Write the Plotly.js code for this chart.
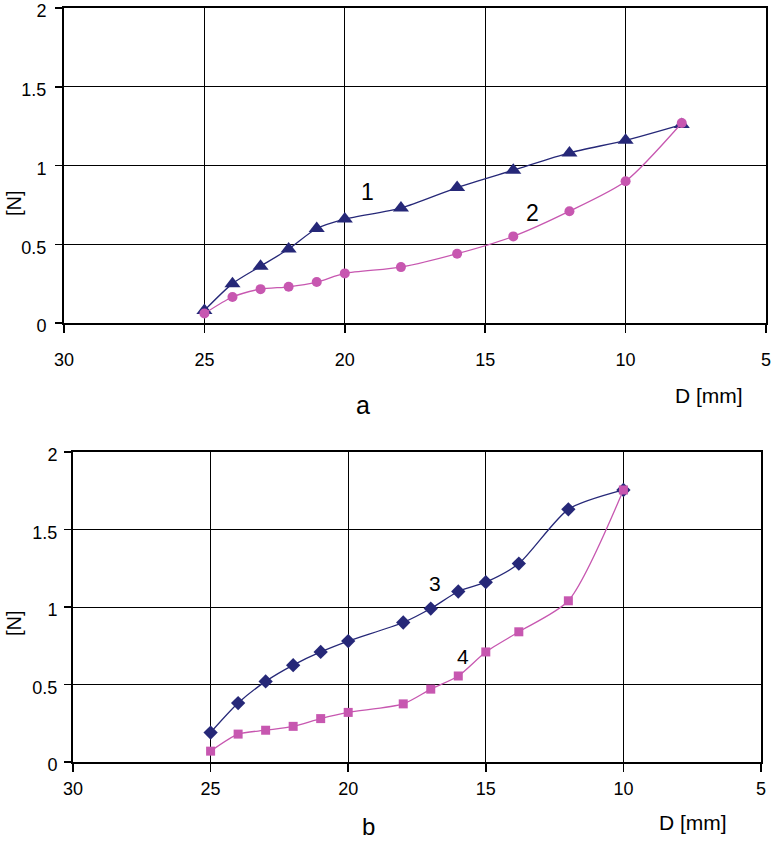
<!DOCTYPE html>
<html>
<head>
<meta charset="utf-8">
<script src="https://cdn.plot.ly/plotly-3.0.1.min.js"></script>
<style>
  body { margin: 0; background: #fff; }
  #graph { width: 772px; height: 842px; }
</style>
</head>
<body>
<div id="graph"></div>
<script>
// chart a: D [mm] vs force [N]
const dA = [25, 24, 23, 22, 21, 20, 18, 16, 14, 12, 10, 8];
const curve1 = [0.08, 0.25, 0.36, 0.47, 0.60, 0.66, 0.73, 0.86, 0.97, 1.08, 1.16, 1.26];
const curve2 = [0.06, 0.165, 0.215, 0.23, 0.26, 0.315, 0.355, 0.44, 0.55, 0.71, 0.90, 1.27];

// chart b
const dB = [25, 24, 23, 22, 21, 20, 18, 17, 16, 15, 13.8, 12, 10];
const curve3 = [0.19, 0.38, 0.52, 0.625, 0.71, 0.78, 0.90, 0.99, 1.10, 1.16, 1.28, 1.63, 1.755];
const curve4 = [0.07, 0.18, 0.205, 0.23, 0.28, 0.32, 0.375, 0.47, 0.555, 0.71, 0.84, 1.04, 1.755];

const xTicks = [30, 25, 20, 15, 10, 5];
const yTicks = [0, 0.5, 1, 1.5, 2];
const yTickText = ['0', '0.5', '1', '1.5', '2'];

const navy = '#262878';
const pink = '#c757b0';
const W = 772, H = 842;
const FONT = 'Liberation Sans, Arial, sans-serif';

function trace(x, y, xa, ya, color, symbol, size) {
    return {
        x: x, y: y, xaxis: xa, yaxis: ya,
        type: 'scatter', mode: 'lines+markers',
        line: { color: color, width: 1.3, shape: 'spline', smoothing: 0.7 },
        marker: { color: color, symbol: symbol, size: size },
        showlegend: false, hoverinfo: 'skip'
    };
}

const data = [
    trace(dA, curve1, 'x', 'y', navy, 'triangle-up', 14),
    trace(dA, curve2, 'x', 'y', pink, 'circle', 10),
    trace(dB, curve3, 'x2', 'y2', navy, 'diamond', 11),
    trace(dB, curve4, 'x2', 'y2', pink, 'square', 9)
];

const tickFont = { family: FONT, size: 18, color: '#000' };

function xAxis(l, r, standoff, anchor) {
    return {
        domain: [l / W, r / W], anchor: anchor,
        range: [30, 5], tickvals: xTicks, ticktext: xTicks.map(String),
        showline: true, mirror: true, linecolor: '#000', linewidth: 2,
        showgrid: true, gridcolor: '#000', gridwidth: 1,
        ticks: 'outside', ticklen: 8, tickwidth: 1.5, tickcolor: '#000',
        ticklabelstandoff: standoff, ticklabeloverflow: 'allow',
        tickfont: tickFont, zeroline: false
    };
}
function yAxis(t, b, standoff, anchor) {
    return {
        domain: [1 - b / H, 1 - t / H], anchor: anchor,
        range: [0, 2], tickvals: yTicks, ticktext: yTickText,
        showline: true, mirror: true, linecolor: '#000', linewidth: 2,
        showgrid: true, gridcolor: '#000', gridwidth: 1,
        ticks: 'outside', ticklen: 7, tickwidth: 1.5, tickcolor: '#000',
        ticklabelstandoff: standoff, ticklabelshift: 3, ticklabeloverflow: 'allow',
        tickfont: tickFont, zeroline: false
    };
}

const txt = (s, x, y, xref, yref, size, extra) => Object.assign({
    text: s, x: x, y: y, xref: xref, yref: yref, showarrow: false,
    xanchor: 'center', yanchor: 'middle',
    font: { family: FONT, size: size, color: '#000' }
}, extra || {});

const layout = {
    width: W, height: H,
    margin: { l: 0, r: 0, t: 0, b: 0 },
    paper_bgcolor: '#fff', plot_bgcolor: '#fff',
    xaxis: xAxis(64, 766, 11, 'y'),
    yaxis: yAxis(8, 323, 5, 'x'),
    xaxis2: xAxis(73, 761, 1, 'y2'),
    yaxis2: yAxis(452, 762, 3, 'x2'),
    annotations: [
        txt('1', 19.2, 0.83, 'x', 'y', 23),
        txt('2', 13.33, 0.70, 'x', 'y', 23),
        txt('3', 16.84, 1.15, 'x2', 'y2', 21),
        txt('4', 15.82, 0.68, 'x2', 'y2', 21),
        txt('D [mm]', 709 / W, 1 - 395 / H, 'paper', 'paper', 21),
        txt('a', 363 / W, 1 - 405 / H, 'paper', 'paper', 25),
        txt('D [mm]', 693 / W, 1 - 822 / H, 'paper', 'paper', 21),
        txt('b', 368 / W, 1 - 826 / H, 'paper', 'paper', 24),
        txt('[N]', 14 / W, 1 - 203 / H, 'paper', 'paper', 20, { textangle: -90 }),
        txt('[N]', 14 / W, 1 - 623 / H, 'paper', 'paper', 20, { textangle: -90 })
    ]
};

Plotly.newPlot('graph', data, layout, { staticPlot: true });
</script>
</body>
</html>
